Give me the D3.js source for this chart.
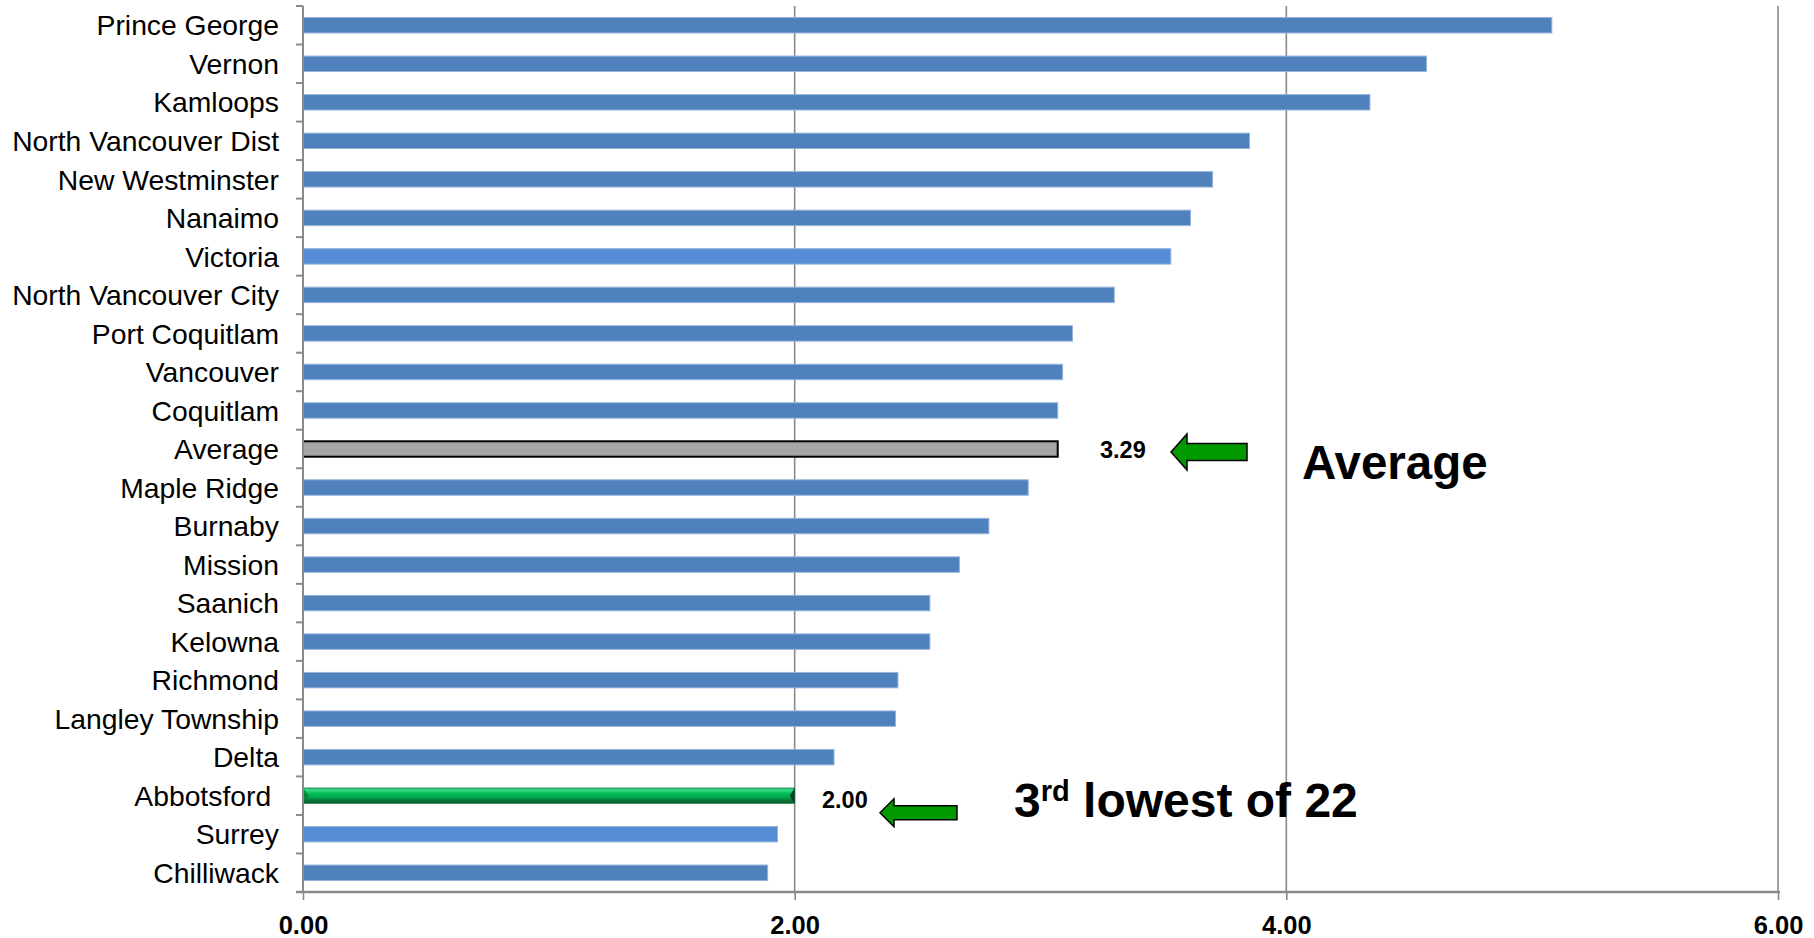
<!DOCTYPE html>
<html>
<head>
<meta charset="utf-8">
<script src="https://cdn.jsdelivr.net/npm/d3@7"></script>
<style>
  html, body { margin: 0; padding: 0; background: #fff; }
  svg { display: block; }
  text { font-family: "Liberation Sans", Arial, sans-serif; }
</style>
</head>
<body>
<svg id="chart" width="1814" height="938"></svg>
<script>
// ---- data ----
const categories = [
  "Prince George", "Vernon", "Kamloops", "North Vancouver Dist", "New Westminster",
  "Nanaimo", "Victoria", "North Vancouver City", "Port Coquitlam", "Vancouver",
  "Coquitlam", "Average", "Maple Ridge", "Burnaby", "Mission", "Saanich", "Kelowna",
  "Richmond", "Langley Township", "Delta", "Abbotsford ", "Surrey", "Chilliwack"
];
const values = [
  5.08, 4.57, 4.34, 3.85, 3.70,
  3.61, 3.53, 3.30, 3.13, 3.09,
  3.07, 3.07, 2.95, 2.79, 2.67, 2.55, 2.55,
  2.42, 2.41, 2.16, 2.00, 1.93, 1.89
];
const xTicks = [0, 2, 4, 6];
const xTickLabels = ["0.00", "2.00", "4.00", "6.00"];
const averageLabel = "3.29";
const abbotsfordLabel = "2.00";
const highlightAvg = "Average";
const highlightHome = "Abbotsford ";
const lighterBars = ["Victoria", "Surrey"];

// ---- layout ----
const svg = d3.select("#chart");
const mLeft = 303, mRight = 1778, mTop = 6, mBottom = 892;

const x = d3.scaleLinear().domain([0, 6]).range([mLeft, mRight]);
const y = d3.scaleBand().domain(categories).range([mTop, mBottom])
  .paddingInner(0.6).paddingOuter(0.3);

const defs = svg.append("defs");
const g = defs.append("linearGradient").attr("id", "greenGrad")
  .attr("x1", 0).attr("y1", 0).attr("x2", 0).attr("y2", 1);
[["0%", "#1CA858"], ["12%", "#3BDD88"], ["35%", "#00C058"], ["62%", "#00A84C"],
 ["80%", "#0A7238"], ["100%", "#0F5A2E"]].forEach(([o, c]) =>
  g.append("stop").attr("offset", o).attr("stop-color", c));

// gridlines
svg.append("g").selectAll("line").data(xTicks.slice(1)).join("line")
  .attr("x1", d => x(d)).attr("x2", d => x(d))
  .attr("y1", mTop).attr("y2", mBottom)
  .attr("stroke", "#8a8a8a").attr("stroke-width", 1.6);

// bars
const bars = svg.append("g");
categories.forEach((c, i) => {
  const v = values[i];
  const r = bars.append("rect")
    .attr("x", x(0)).attr("y", y(c))
    .attr("width", x(v) - x(0)).attr("height", y.bandwidth());
  if (c === highlightAvg) {
    r.attr("fill", "#A6A6A6").attr("stroke", "#000").attr("stroke-width", 2);
  } else if (c === highlightHome) {
    r.attr("fill", "url(#greenGrad)").attr("stroke", "#2E8B57").attr("stroke-width", 0.8);
    const yy = y(c), h = y.bandwidth();
    bars.append("path")
      .attr("d", `M${x(0)},${yy} L${x(0) + 6},${yy + h / 2} L${x(0)},${yy + h} Z`)
      .attr("fill", "#0E7A3C").attr("opacity", 0.8);
    bars.append("path")
      .attr("d", `M${x(v)},${yy} L${x(v) - 5},${yy + h / 2} L${x(v)},${yy + h} Z`)
      .attr("fill", "#0B3D1E");
  } else {
    r.attr("fill", lighterBars.includes(c) ? "#558ED5" : "#4F81BD")
      .attr("stroke", "#93B3DB").attr("stroke-width", 1);
  }
});

// y axis
const yAxis = svg.append("g");
yAxis.append("line").attr("x1", mLeft).attr("x2", mLeft).attr("y1", mTop).attr("y2", mBottom)
  .attr("stroke", "#8a8a8a").attr("stroke-width", 2);
const boundaries = categories.map(c => y(c) - y.step() * y.paddingInner() / 2).concat([mBottom]);
yAxis.selectAll("line.tk").data(boundaries).join("line").attr("class", "tk")
  .attr("x1", mLeft - 7).attr("x2", mLeft).attr("y1", d => d).attr("y2", d => d)
  .attr("stroke", "#8a8a8a").attr("stroke-width", 2);
yAxis.selectAll("text").data(categories).join("text")
  .attr("x", mLeft - 24).attr("y", d => y(d) + y.bandwidth() / 2)
  .attr("dy", "0.36em").attr("text-anchor", "end")
  .style("white-space", "pre")
  .attr("font-size", 28.3).attr("fill", "#000")
  .text(d => d);

// x axis
const xAxis = svg.append("g").attr("transform", `translate(0,${mBottom})`)
  .call(d3.axisBottom(x).tickValues(xTicks).tickSize(8)
    .tickFormat((d, i) => xTickLabels[i]));
xAxis.select(".domain").remove();
xAxis.selectAll(".tick line").attr("stroke", "#8a8a8a").attr("stroke-width", 1.6);
xAxis.selectAll(".tick text")
  .attr("y", 42).attr("dy", 0)
  .attr("font-family", "'Liberation Sans', Arial, sans-serif")
  .attr("font-size", 25.5).attr("font-weight", "bold").attr("fill", "#000");
svg.append("line").attr("x1", mLeft - 7).attr("x2", mRight + 2)
  .attr("y1", mBottom).attr("y2", mBottom)
  .attr("stroke", "#8a8a8a").attr("stroke-width", 2.5);

// ---- annotations ----
function arrow(tipX, cy, len, headLen, headH, shaftH) {
  const hx = tipX + headLen, ex = tipX + len;
  return `M${tipX},${cy} L${hx},${cy - headH / 2} L${hx},${cy - shaftH / 2} L${ex},${cy - shaftH / 2}
          L${ex},${cy + shaftH / 2} L${hx},${cy + shaftH / 2} L${hx},${cy + headH / 2} Z`;
}
const avgY = y(highlightAvg) + y.bandwidth() / 2;
const homeY = y(highlightHome) + y.bandwidth() / 2;

svg.append("text").attr("x", 1100).attr("y", avgY + 9)
  .attr("font-size", 23.5).attr("font-weight", "bold").text(averageLabel);
svg.append("path").attr("d", arrow(1171, avgY + 3, 76, 16, 36, 17))
  .attr("fill", "#009A00").attr("stroke", "#000").attr("stroke-width", 1.5);
svg.append("text").attr("x", 1302).attr("y", avgY + 30)
  .attr("font-size", 47.5).attr("font-weight", "bold").text("Average");

svg.append("text").attr("x", 822).attr("y", homeY + 12)
  .attr("font-size", 23.5).attr("font-weight", "bold").text(abbotsfordLabel);
svg.append("path").attr("d", arrow(880, homeY + 17, 77, 14, 28, 14))
  .attr("fill", "#009A00").attr("stroke", "#000").attr("stroke-width", 1.5);
const t = svg.append("text").attr("x", 1014).attr("y", homeY + 21)
  .attr("font-size", 48).attr("font-weight", "bold");
t.append("tspan").text("3");
t.append("tspan").attr("font-size", 29).attr("dy", -16).text("rd");
t.append("tspan").attr("dy", 16).text(" lowest of 22");
</script>
</body>
</html>
